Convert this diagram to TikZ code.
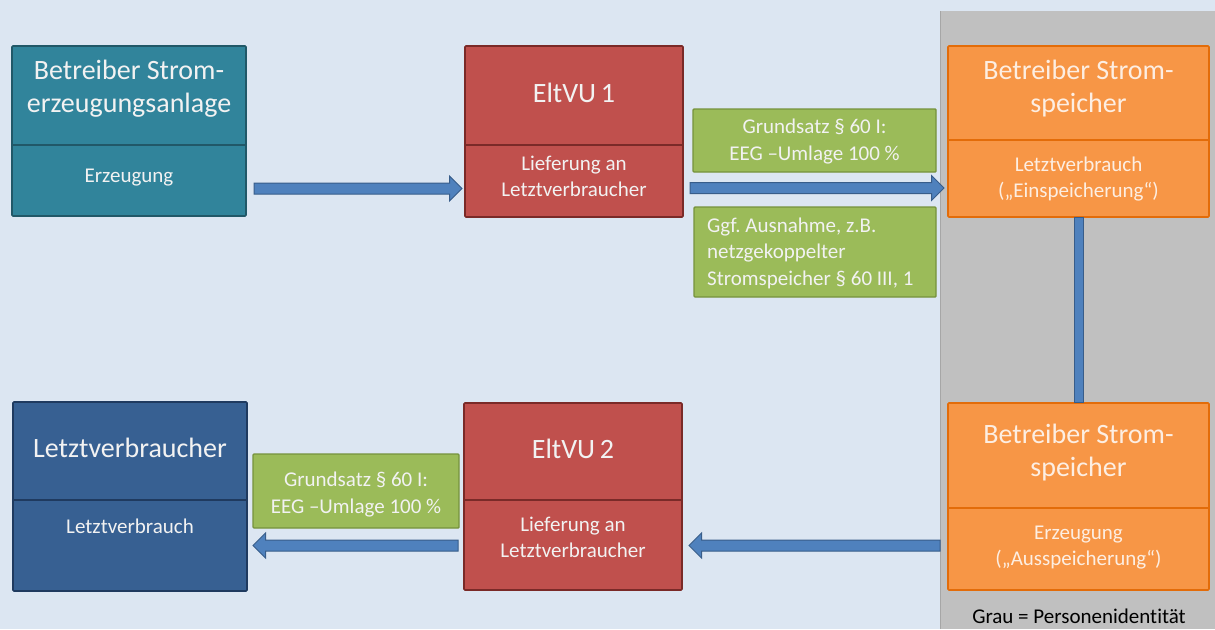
\documentclass[tikz,border=0pt]{standalone}
\usepackage{fontspec}
\setmainfont{Carlito}[Ligatures=NoCommon]
\usetikzlibrary{calc}
\frenchspacing
\definecolor{bgblue}{HTML}{DCE6F2}
\definecolor{grayarea}{HTML}{C0C0C0}
\definecolor{tealfill}{HTML}{31849B}
\definecolor{tealline}{HTML}{215868}
\definecolor{redfill}{HTML}{C0504D}
\definecolor{redline}{HTML}{7A2A28}
\definecolor{bluefill}{HTML}{376092}
\definecolor{blueline}{HTML}{1F3A5F}
\definecolor{orangefill}{HTML}{F79646}
\definecolor{orangeline}{HTML}{E36C09}
\definecolor{greenfill}{HTML}{9BBB59}
\definecolor{greenline}{HTML}{76923C}
\definecolor{arrowfill}{HTML}{4F81BD}
\definecolor{arrowline}{HTML}{385D8A}
\definecolor{lighttext}{HTML}{F2F2F2}
\definecolor{orangetext}{HTML}{FDEEE2}
\tikzset{
  box/.style={draw, line width=1.6pt, rounded corners=1pt, inner sep=0pt},
  divider/.style={line width=1.6pt},
  titletext/.style={anchor=base, align=center, inner sep=0pt, text=lighttext, font=\fontsize{28}{32.5}\selectfont},
  subtext/.style={anchor=base, align=center, inner sep=0pt, text=lighttext, font=\fontsize{21}{26}\selectfont},
  greenbox/.style={draw=greenline, fill=greenfill, line width=1.4pt, rounded corners=1pt, inner sep=0pt},
  greentext/.style={anchor=base, inner sep=0pt, text=lighttext, font=\fontsize{21}{26.5}\selectfont},
  barrow/.style={draw=arrowline, fill=arrowfill, line width=1pt, line join=miter},
}
\newcommand\blockarrow[2]{%
  \coordinate (bab) at ($(#2)!12.5pt!(#1)$);
  \draw[barrow] ($(#1)!5.5pt!90:(#2)$) -- ($(bab)!5.5pt!90:(#2)$) -- ($(bab)!12.5pt!90:(#2)$) -- (#2) -- ($(bab)!12.5pt!-90:(#2)$) -- ($(bab)!5.5pt!-90:(#2)$) -- ($(#1)!5.5pt!-90:(#2)$) -- cycle;}
\begin{document}
\begin{tikzpicture}[x=1pt, y=-1pt]
  % background
  \fill[bgblue] (0,0) rectangle (1215,629);
  \useasboundingbox (0,0) rectangle (1215,629);
  \fill[grayarea] (940,11) rectangle (1215,629);
  \draw[line width=0.8pt, color=gray!70] (940,11) -- (940,629);

  % top row boxes (text nodes anchored at baseline of their last line)
  \node[box, draw=tealline, fill=tealfill, minimum width=234pt, minimum height=170pt] (erz) at (129,131) {};
  \draw[divider, tealline] (12,145) -- (246,145);
  \node[titletext] (erzT) at (129,112) {Betreiber Strom-\\erzeugungsanlage};
  \node[subtext] (erzS) at (129,182) {Erzeugung};

  \node[box, draw=redline, fill=redfill, minimum width=218pt, minimum height=171pt] (elt1) at (574,131.5) {};
  \draw[divider, redline] (465,145) -- (683,145);
  \node[titletext] (elt1T) at (574,102) {EltVU\,1};
  \node[subtext] (elt1S) at (574,196) {Lieferung an\\Letztverbraucher};

  \node[box, draw=orangeline, fill=orangefill, minimum width=261pt, minimum height=171pt] (sp1) at (1078.5,131.5) {};
  \draw[divider, orangeline] (948,140) -- (1209,140);
  \node[titletext, text=orangetext] (sp1T) at (1078.5,112) {Betreiber Strom-\\speicher};
  \node[subtext, text=orangetext] (sp1S) at (1078.5,197) {Letztverbrauch\\(„Einspeicherung“)};

  % bottom row boxes
  \node[box, draw=blueline, fill=bluefill, minimum width=234pt, minimum height=189pt] (lv) at (130,496.5) {};
  \draw[divider, blueline] (13,500) -- (247,500);
  \node[titletext] (lvT) at (130,457) {Letztverbraucher};
  \node[subtext] (lvS) at (130,533) {Letztverbrauch};

  \node[box, draw=redline, fill=redfill, minimum width=218pt, minimum height=187pt] (elt2) at (573,496.5) {};
  \draw[divider, redline] (464,500) -- (682,500);
  \node[titletext] (elt2T) at (573,458) {EltVU\,2};
  \node[subtext] (elt2S) at (573,557) {Lieferung an\\Letztverbraucher};

  \node[box, draw=orangeline, fill=orangefill, minimum width=261pt, minimum height=187pt] (sp2) at (1078.5,496.5) {};
  \draw[divider, orangeline] (948,508) -- (1209,508);
  \node[titletext, text=orangetext] (sp2T) at (1078.5,476) {Betreiber Strom-\\speicher};
  \node[subtext, text=orangetext] (sp2S) at (1078.5,565) {Erzeugung\\(„Ausspeicherung“)};

  % green label boxes
  \node[greenbox, minimum width=243pt, minimum height=63pt] (g1) at (814.5,140.5) {};
  \node[greentext, align=center] (g1T) at (814.5,160) {Grundsatz § 60 I:\\EEG –Umlage 100 \%};
  \node[greenbox, minimum width=242pt, minimum height=90pt] (g2) at (815,252) {};
  \node[greentext, align=left, anchor=base west] (g2T) at (707,285) {Ggf. Ausnahme, z.B.\\netzgekoppelter\\Stromspeicher § 60 III, 1};
  \node[greenbox, minimum width=206pt, minimum height=74pt] (g3) at (356,491) {};
  \node[greentext, align=center] (g3T) at (356,513) {Grundsatz § 60 I:\\EEG –Umlage 100 \%};

  % connectors
  \coordinate (a1s) at (254,188.5);
  \coordinate (a1e) at (462,188.5);
  \blockarrow{a1s}{a1e}
  \coordinate (a2s) at (690,188);
  \coordinate (a2e) at (944,188);
  \blockarrow{a2s}{a2e}
  \coordinate (a3s) at (940,545.5);
  \coordinate (a3e) at (689,545.5);
  \blockarrow{a3s}{a3e}
  \coordinate (a4s) at (458,545.5);
  \coordinate (a4e) at (253,545.5);
  \blockarrow{a4s}{a4e}
  \draw[barrow] ($(sp1.south)+(-4.5,0)$) rectangle ($(sp2.north)+(4.5,0)$);

  \node[anchor=base, inner sep=0pt, font=\fontsize{21}{24}\selectfont] (grau) at (1079,623) {Grau = Personenidentität};
\end{tikzpicture}
\end{document}
